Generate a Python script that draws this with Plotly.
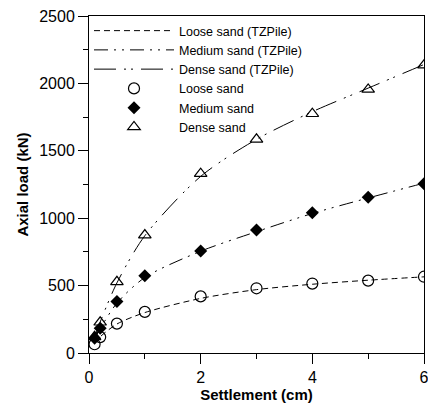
import plotly.graph_objects as go

# Settlement at each load step (cm)
settlement = [0.1, 0.2, 0.5, 1, 2, 3, 4, 5, 6]

# Measured axial loads (kN)
loose_load = [65, 118, 218, 305, 420, 480, 515, 537, 566]
medium_load = [110, 184, 382, 573, 757, 912, 1040, 1155, 1255]
dense_load = [120, 228, 528, 875, 1330, 1585, 1775, 1955, 2135]

# TZPile predictions (kN)
loose_tz = [70, 120, 215, 300, 405, 470, 510, 540, 565]
medium_tz = [105, 180, 370, 560, 755, 900, 1035, 1150, 1260]
dense_tz = [115, 230, 520, 870, 1310, 1585, 1790, 1965, 2140]

x_ticks = [0, 2, 4, 6]
y_ticks = [0, 500, 1000, 1500, 2000, 2500]

FONT = "Liberation Sans, Arial, sans-serif"

fig = go.Figure()

line_styles = [
    ("Loose sand (TZPile)", loose_tz, "6px,4px"),
    ("Medium sand (TZPile)", medium_tz, "14px,6px,2px,6px,2px,6px"),
    ("Dense sand (TZPile)", dense_tz, "22px,8px,2px,5px,2px,8px"),
]
for name, ys, dash in line_styles:
    fig.add_trace(go.Scatter(
        x=settlement, y=ys, mode="lines", name=name,
        line=dict(color="black", width=1, dash=dash, shape="spline", smoothing=0.8),
    ))

marker_styles = [
    ("Loose sand", loose_load, "circle-open", 11, 1.2),
    ("Medium sand", medium_load, "diamond", 10, 0),
    ("Dense sand", dense_load, "triangle-up-open", 11, 1.2),
]
for name, ys, sym, size, lw in marker_styles:
    fig.add_trace(go.Scatter(
        x=settlement, y=ys, mode="markers", name=name,
        marker=dict(symbol=sym, size=size, color="black",
                    line=dict(color="black", width=lw)),
    ))

fig.update_layout(
    width=428, height=407,
    margin=dict(l=89, r=4, t=16, b=54),
    paper_bgcolor="white", plot_bgcolor="white",
    font=dict(family=FONT, size=13, color="black"),
    showlegend=True,
    legend=dict(
        x=0.0, y=1.0, xanchor="left", yanchor="top",
        bgcolor="rgba(0,0,0,0)", borderwidth=0,
        font=dict(family=FONT, size=12.5, color="black"),
        itemwidth=80, tracegroupgap=0,
    ),
    xaxis=dict(
        range=[0, 6], tickvals=x_ticks, ticks="outside", ticklen=10,
        tickwidth=1, tickcolor="black", ticklabeloverflow="allow",
        automargin=False,
        minor=dict(dtick=1, ticks="outside", ticklen=5, tickcolor="black"),
        showline=True, linecolor="black", linewidth=1, mirror=True,
        showgrid=False, zeroline=False,
        tickfont=dict(family=FONT, size=16),
        title=dict(text="<b>Settlement (cm)</b>", font=dict(family=FONT, size=15), standoff=2),
    ),
    yaxis=dict(
        range=[0, 2500], tickvals=y_ticks, ticks="outside", ticklen=10,
        tickwidth=1, tickcolor="black", ticklabeloverflow="allow",
        automargin=False,
        minor=dict(dtick=250, ticks="outside", ticklen=5, tickcolor="black"),
        showline=True, linecolor="black", linewidth=1, mirror=True,
        showgrid=False, zeroline=False,
        tickfont=dict(family=FONT, size=16),
        title=dict(text="<b>Axial load (kN)</b>", font=dict(family=FONT, size=15), standoff=6),
    ),
)

fig.write_html("out.html")
